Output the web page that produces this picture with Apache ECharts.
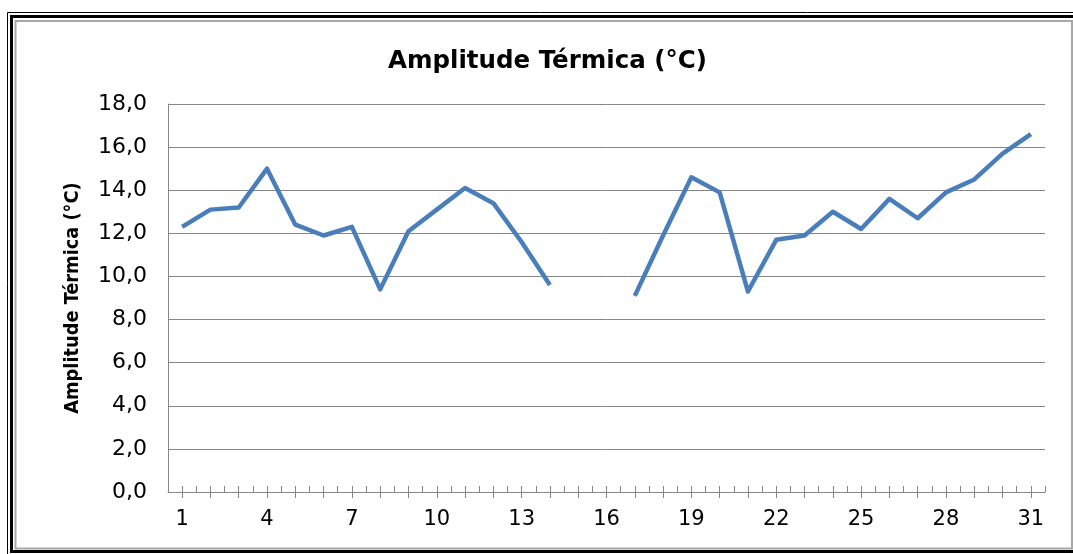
<!DOCTYPE html>
<html>
<head>
<meta charset="utf-8">
<script src="https://cdn.jsdelivr.net/npm/echarts@6/dist/echarts.min.js"></script>
<style>
  html, body { margin: 0; padding: 0; background: #fff; }
  #chart { width: 1073px; height: 554px; }
</style>
</head>
<body>
<div id="chart"></div>
<script>
// dias do mês
var days = [];
for (var d = 1; d <= 31; d++) days.push(String(d));

// amplitude térmica diária (°C), dias 15 e 16 sem dados
var amplitude = [12.3, 13.1, 13.2, 15.0, 12.4, 11.9, 12.3, 9.4, 12.1, 13.1,
                 14.1, 13.4, 11.6, 9.6, null, null, 9.1, 11.9, 14.6, 13.9,
                 9.3, 11.7, 11.9, 13.0, 12.2, 13.6, 12.7, 13.9, 14.5, 15.7, 16.6];

var titleText = 'Amplitude Térmica (°C)';
var yTicks = { min: 0, max: 18, step: 2 };

var myChart = echarts.init(document.getElementById('chart'));
myChart.setOption({
    animation: false,
    backgroundColor: '#fff',
    title: {
        text: titleText,
        left: 383,
        top: 44,
        textStyle: { fontFamily: 'DejaVu Sans', fontWeight: 'bold', fontSize: 24.5, color: '#000' }
    },
    graphic: [
        { type: 'rect', shape: { x: 7.5, y: 12.5, width: 1072, height: 543 }, style: { fill: 'none', stroke: '#000', lineWidth: 1 } },
        { type: 'rect', shape: { x: 11.5, y: 16.5, width: 1064, height: 535 }, style: { fill: 'none', stroke: '#000', lineWidth: 3 } },
        { type: 'rect', shape: { x: 15.5, y: 21, width: 1056.5, height: 527.5 }, style: { fill: 'none', stroke: '#a6a6a6', lineWidth: 2 } }
    ],
    grid: { left: 168, right: 28, top: 104, bottom: 62 },
    xAxis: [{
        // graduação secundária (entre os dias)
        type: 'value',
        position: 'bottom',
        min: 0.5,
        max: 31.5,
        interval: 0.5,
        axisLine: { show: true, lineStyle: { color: '#868686', width: 1 } },
        axisTick: { show: true, inside: true, length: 6, lineStyle: { color: '#868686' } },
        axisLabel: { show: false },
        splitLine: { show: false }
    }, {
        type: 'category',
        position: 'bottom',
        data: days,
        boundaryGap: true,
        axisLine: { show: false },
        axisTick: { show: true, alignWithLabel: true, interval: 0, length: 6, lineStyle: { color: '#868686' } },
        axisLabel: { interval: 2, margin: 17, fontFamily: 'DejaVu Sans', fontSize: 21, color: '#000' },
        splitLine: { show: false }
    }],
    yAxis: {
        type: 'value',
        min: yTicks.min,
        max: yTicks.max,
        interval: yTicks.step,
        name: titleText,
        nameLocation: 'middle',
        nameRotate: 90,
        nameGap: 85,
        nameTextStyle: { fontFamily: 'DejaVu Sans Condensed', fontWeight: 'bold', fontSize: 19.8, color: '#000' },
        axisLine: { show: true, lineStyle: { color: '#868686' } },
        axisTick: { show: false },
        axisLabel: {
            margin: 21,
            fontFamily: 'DejaVu Sans',
            fontSize: 22,
            color: '#000',
            formatter: function (v) { return v.toFixed(1).replace('.', ','); }
        },
        splitLine: { lineStyle: { color: '#868686', width: 1 } }
    },
    series: [{
        type: 'line',
        xAxisIndex: 1,
        data: amplitude,
        connectNulls: false,
        showSymbol: false,
        symbol: 'none',
        lineStyle: { color: '#4a7ebb', width: 4.5, join: 'round' }
    }]
});
</script>
</body>
</html>
